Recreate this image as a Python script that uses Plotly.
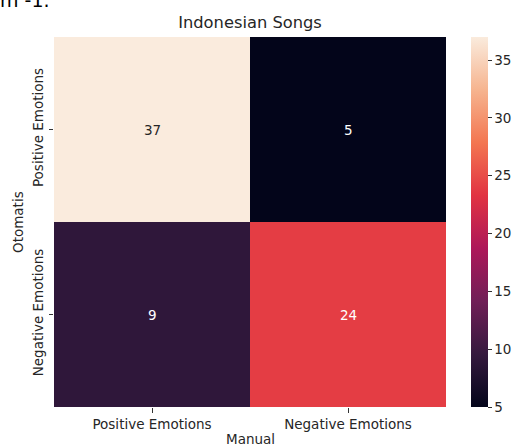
import plotly.graph_objects as go

categories = ["Positive Emotions", "Negative Emotions"]
z_values = [[37, 5],
            [9, 24]]
title_text = "Indonesian Songs"
x_title = "Manual"
y_title = "Otomatis"
cbar_ticks = [5, 10, 15, 20, 25, 30, 35]

rocket = [
    [0.0, "#03051a"],
    [1/7, "#35193e"],
    [2/7, "#701f57"],
    [3/7, "#ad1759"],
    [4/7, "#e13342"],
    [5/7, "#f37651"],
    [6/7, "#f6b48f"],
    [1.0, "#faebdd"],
]

FONT = "DejaVu Sans"
W, H = 515, 448
L, R, T, B = 54, 69, 37, 41
pw, ph = W - L - R, H - T - B

zmin = min(min(r) for r in z_values)
zmax = max(max(r) for r in z_values)


def hex_rgb(h):
    h = h.lstrip("#")
    return [int(h[k:k + 2], 16) / 255 for k in (0, 2, 4)]


def scale_color(t):
    for (p0, c0), (p1, c1) in zip(rocket[:-1], rocket[1:]):
        if p0 <= t <= p1:
            f = (t - p0) / (p1 - p0) if p1 > p0 else 0
            a, b = hex_rgb(c0), hex_rgb(c1)
            return [a[k] + f * (b[k] - a[k]) for k in range(3)]
    return hex_rgb(rocket[-1][1])


def luminance(rgb):
    lin = [c / 12.92 if c <= 0.03928 else ((c + 0.055) / 1.055) ** 2.4 for c in rgb]
    return 0.2126 * lin[0] + 0.7152 * lin[1] + 0.0722 * lin[2]


fig = go.Figure(go.Heatmap(
    z=z_values, x=categories, y=categories,
    colorscale=rocket, zmin=zmin, zmax=zmax,
    colorbar=dict(
        x=(471 - L) / pw, xanchor="left", xpad=0, ypad=0,
        y=0.5, yanchor="middle", len=1, lenmode="fraction",
        thickness=17, outlinewidth=0,
        tickvals=cbar_ticks, ticks="outside", ticklen=4, tickwidth=1,
        tickcolor="#333333",
        tickfont=dict(family=FONT, size=13.5, color="#262626"),
    ),
    hoverinfo="skip",
))

annotations = []
for i, yc in enumerate(categories):
    for j, xc in enumerate(categories):
        v = z_values[i][j]
        lum = luminance(scale_color((v - zmin) / (zmax - zmin)))
        annotations.append(dict(
            x=xc, y=yc, xref="x", yref="y", text=str(v), showarrow=False,
            font=dict(family=FONT, size=13.5,
                      color="#262626" if lum > 0.408 else "#ffffff"),
        ))

# axis titles
annotations.append(dict(text=x_title, xref="paper", yref="paper", x=0.5,
                        y=-(439 - (T + ph)) / ph, yanchor="middle",
                        showarrow=False,
                        font=dict(family=FONT, size=13.5, color="#262626")))
annotations.append(dict(text=y_title, xref="paper", yref="paper",
                        x=-(L - 18) / pw, xanchor="center", y=0.5,
                        textangle=-90, showarrow=False,
                        font=dict(family=FONT, size=13.5, color="#262626")))
# cropped text at the top-left of the screenshot
annotations.append(dict(text="m -1.", xref="paper", yref="paper",
                        x=-(L + 2) / pw, xanchor="left",
                        y=1 + (T - 13) / ph, yanchor="bottom",
                        showarrow=False,
                        font=dict(family=FONT, size=19, color="#000000")))

fig.update_layout(
    width=W, height=H,
    margin=dict(l=L, r=R, t=T, b=B, autoexpand=False),
    paper_bgcolor="white", plot_bgcolor="white",
    title=dict(text=title_text, x=0.5 * pw / W + L / W, xanchor="center",
               y=1 - 22 / H, yanchor="middle",
               font=dict(family=FONT, size=16.3, color="#262626")),
    annotations=annotations,
    xaxis=dict(ticks="outside", ticklen=4.5, tickwidth=1, tickcolor="#333333",
               showgrid=False, zeroline=False, showline=False,
               tickfont=dict(family=FONT, size=13.5, color="#262626")),
    yaxis=dict(ticks="outside", ticklen=4.5, tickwidth=1, tickcolor="#333333",
               autorange="reversed", tickangle=-90,
               showgrid=False, zeroline=False, showline=False,
               tickfont=dict(family=FONT, size=13.5, color="#262626")),
)

fig.write_html("out.html")
